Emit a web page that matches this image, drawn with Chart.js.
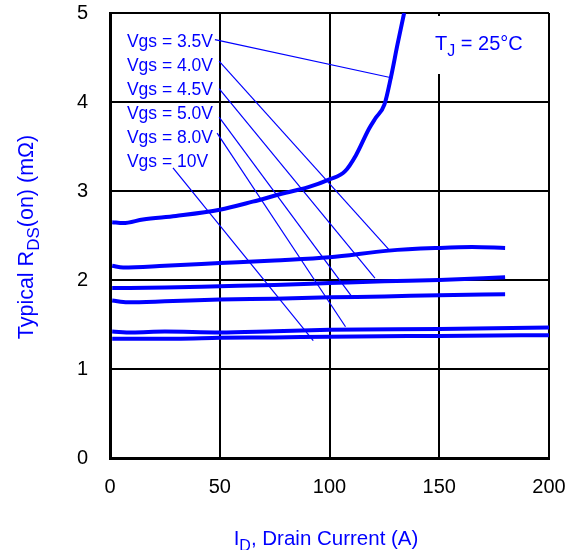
<!DOCTYPE html>
<html>
<head>
<meta charset="utf-8">
<script src="https://cdn.jsdelivr.net/npm/chart.js@4.4.1/dist/chart.umd.min.js"></script>
<style>
  html, body { margin: 0; padding: 0; background: #fff; }
  #wrap { width: 578px; height: 550px; }
</style>
</head>
<body>
<div id="wrap"><canvas id="rdsChart" width="578" height="550"></canvas></div>
<script>
// ---- data: drain current (A) vs typical RDS(on) (mOhm)
const seriesNames = ['Vgs = 3.5V', 'Vgs = 4.0V', 'Vgs = 4.5V', 'Vgs = 5.0V', 'Vgs = 8.0V', 'Vgs = 10V'];

const id35 = [1, 6, 15, 30, 50, 65, 80, 90, 100, 107, 112, 118, 121, 125, 128, 131, 134];
const r35  = [2.65, 2.64, 2.68, 2.72, 2.79, 2.88, 2.98, 3.04, 3.13, 3.22, 3.40, 3.70, 3.82, 3.97, 4.28, 4.65, 5.0];

const id40 = [1, 6, 25, 50, 75, 100, 127, 150, 165, 180];
const r40  = [2.16, 2.14, 2.16, 2.19, 2.22, 2.255, 2.33, 2.36, 2.37, 2.36];

const id45 = [1, 25, 50, 75, 100, 125, 150, 180];
const r45  = [1.91, 1.915, 1.93, 1.945, 1.965, 1.985, 2.0, 2.03];

const id50 = [1, 8, 25, 50, 75, 100, 125, 150, 180];
const r50  = [1.77, 1.75, 1.76, 1.78, 1.79, 1.805, 1.815, 1.83, 1.84];

const id80 = [1, 10, 25, 50, 75, 100, 150, 200];
const r80  = [1.42, 1.41, 1.42, 1.41, 1.425, 1.44, 1.45, 1.465];

const id100 = [1, 30, 50, 75, 100, 150, 200];
const r100  = [1.34, 1.34, 1.35, 1.355, 1.363, 1.372, 1.38];

// label anchors and leader lines (axis units)
const labelX    = [7.7, 7.7, 7.7, 7.7, 7.7, 7.7];
const labelY    = [4.674, 4.404, 4.135, 3.865, 3.596, 3.326];
const leadFromX = [47.8, 49.7, 49.7, 49.7, 48.8, 28.7];
const leadFromY = [4.70, 4.46, 4.15, 3.83, 3.65, 3.26];
const leadToX   = [128.7, 127.5, 120.7, 110, 107.3, 92.6];
const leadToY   = [4.27, 2.33, 2.02, 1.82, 1.475, 1.318];

const xTicks = [0, 50, 100, 150, 200];
const yTicks = [0, 1, 2, 3, 4, 5];

const BLUE = '#0000ff';
const FONT = '"Liberation Sans", Arial, Helvetica, sans-serif';

function pts(xs, ys) { return xs.map((x, i) => ({ x, y: ys[i] })); }

const curves = [[id35, r35], [id40, r40], [id45, r45], [id50, r50], [id80, r80], [id100, r100]];

const datasets = curves.map(([xs, ys], i) => ({
  label: seriesNames[i],
  data: pts(xs, ys),
  borderColor: BLUE,
  borderWidth: 4,
  pointRadius: 0,
  cubicInterpolationMode: 'monotone',
  fill: false
}));

leadFromX.forEach((x, i) => {
  datasets.push({
    label: 'lead' + i,
    data: [{ x, y: leadFromY[i] }, { x: leadToX[i], y: leadToY[i] }],
    borderColor: BLUE,
    borderWidth: 1.2,
    pointRadius: 0,
    fill: false
  });
});

// text with a subscript part: [[text, isSub], ...]
function drawRich(ctx, parts, x, y, size, align) {
  const subSize = Math.round(size * 0.8);
  let total = 0;
  parts.forEach(([t, sub]) => {
    ctx.font = (sub ? subSize : size) + 'px ' + FONT;
    total += ctx.measureText(t).width;
  });
  let cx = align === 'center' ? x - total / 2 : x;
  ctx.textAlign = 'left';
  ctx.textBaseline = 'alphabetic';
  parts.forEach(([t, sub]) => {
    ctx.font = (sub ? subSize : size) + 'px ' + FONT;
    ctx.fillText(t, cx, sub ? y + size * 0.3 : y);
    cx += ctx.measureText(t).width;
  });
}

const labelsPlugin = {
  id: 'labelsPlugin',
  afterDraw(chart) {
    const ctx = chart.ctx;
    const xs = chart.scales.x, ys = chart.scales.y;
    ctx.save();

    // curve labels
    ctx.fillStyle = BLUE;
    ctx.font = '17.5px ' + FONT;
    ctx.textAlign = 'left';
    ctx.textBaseline = 'middle';
    seriesNames.forEach((name, i) => {
      ctx.fillText(name, xs.getPixelForValue(labelX[i]), ys.getPixelForValue(labelY[i]));
    });

    // junction temperature, on a white patch over the grid line
    ctx.fillStyle = '#fff';
    ctx.fillRect(428, 16, 112, 58);
    ctx.fillStyle = BLUE;
    drawRich(ctx, [['T', false], ['J', true], [' = 25°C', false]], 435, 50, 20, 'left');

    // axis titles
    drawRich(ctx, [['I', false], ['D', true], [', Drain Current (A)', false]], 326, 545, 20.5, 'center');
    ctx.translate(33, 237);
    ctx.rotate(-Math.PI / 2);
    drawRich(ctx, [['Typical R', false], ['DS', true], ['(on) (m\u03A9)', false]], 0, 0, 21.5, 'center');
    ctx.restore();
  }
};

new Chart(document.getElementById('rdsChart').getContext('2d'), {
  type: 'line',
  data: { datasets },
  options: {
    responsive: false,
    animation: false,
    layout: { padding: { top: 13, right: 29, left: 0, bottom: 0 } },
    plugins: { legend: { display: false }, tooltip: { enabled: false } },
    scales: {
      x: {
        type: 'linear', min: 0, max: 200,
        afterBuildTicks: s => { s.ticks = xTicks.map(v => ({ value: v })); },
        afterFit: s => { s.height = 92; s.paddingLeft = 0; s.paddingRight = 0; },
        grid: { color: '#000', lineWidth: 2, drawTicks: false },
        border: { color: '#000', width: 3 },
        ticks: { color: '#000', font: { size: 20, family: FONT }, padding: 17, maxRotation: 0 }
      },
      y: {
        type: 'linear', min: 0, max: 5,
        afterBuildTicks: s => { s.ticks = yTicks.map(v => ({ value: v })); },
        afterFit: s => { s.width = 110; s.paddingTop = 0; s.paddingBottom = 0; },
        grid: { color: '#000', lineWidth: 2, drawTicks: false },
        border: { color: '#000', width: 3 },
        ticks: { color: '#000', font: { size: 20, family: FONT }, padding: 22 }
      }
    }
  },
  plugins: [labelsPlugin]
});
</script>
</body>
</html>
